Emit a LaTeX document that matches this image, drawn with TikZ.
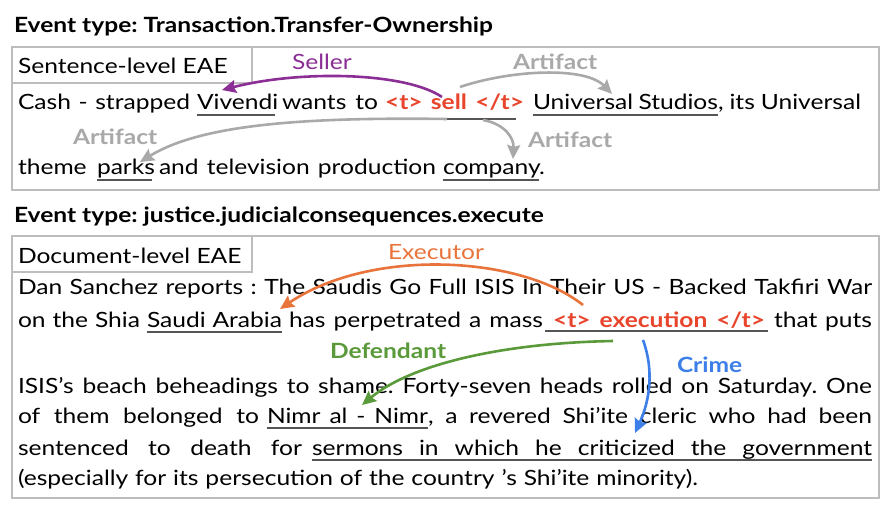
\documentclass[tikz,border=0pt]{standalone}
\usepackage{fontspec}
\setmainfont[FakeStretch=1.17]{Lato}
\frenchspacing
\usetikzlibrary{arrows.meta,calc}
\definecolor{trig}{HTML}{E8452C}
\definecolor{purp}{HTML}{8B2F96}
\definecolor{argray}{HTML}{A9A9A9}
\definecolor{orng}{HTML}{E8743B}
\definecolor{grn}{HTML}{5B9A3A}
\definecolor{blu}{HTML}{3D7FE8}
\definecolor{boxgray}{HTML}{BDBDBD}
\definecolor{ulgray}{HTML}{555555}
\newcommand\bodyfont{\fontsize{21}{25}\selectfont}
\newcommand\segbox[2]{\makebox[#1pt][s]{#2}}
\tikzset{
  seg/.style={anchor=base west, inner sep=0pt, outer sep=0pt, font=\bodyfont},
  trigtext/.style={seg, text=trig, font=\bodyfont\bfseries},
  lab/.style={anchor=base west, inner sep=0pt, outer sep=0pt, font=\bodyfont},
  blab/.style={lab, font=\bodyfont\bfseries},
  frame/.style={draw=boxgray, line width=1.2pt},
  ul/.style={draw=ulgray, line width=1.3pt},
  argarrow/.style={line width=2.6pt, -{Stealth[length=14pt,width=13pt,inset=2pt]}},
}
\begin{document}
\begin{tikzpicture}[x=1pt,y=-1pt]
\useasboundingbox (0,0) rectangle (894,516);
\fill[white] (0,0) rectangle (894,516);

% ---------- Sentence-level ----------
\node[blab] (t1) at (14,33) {Event type: Transaction.Transfer-Ownership};
\draw[frame] (12,47) rectangle (879,190);
\draw[frame] (12,47) rectangle (252,83);
\node[lab] (l1) at (18,74) {Sentence-level EAE};

\node[seg] (s1a) at (18,110) {\segbox{172}{Cash - strapped}};
\node[seg] (s1b) at (197,110) {\segbox{78}{Vivendi}};
\node[seg] (s1c) at (282,110) {\segbox{96}{wants to}};
\node[trigtext] (s1d) at (385,110) {\segbox{139}{<t> sell </t>}};
\node[seg] (s1e) at (533,110) {\segbox{185}{Universal Studios}};
\node[seg] (s1f) at (718,110) {\segbox{143}{, its Universal}};

\node[seg] (s2a) at (18,175) {\segbox{72}{theme}};
\node[seg] (s2b) at (97,175) {\segbox{55}{parks}};
\node[seg] (s2c) at (159,175) {\segbox{277}{and television production}};
\node[seg] (s2d) at (443,175) {\segbox{96}{company}};
\node[seg] (s2e) at (539,175) {.};

\draw[ul] ($(s1b.base west)+(0,5)$) -- ($(s1b.base east)+(0,5)$);
\draw[ul] ($(s1e.base west)+(0,5)$) -- ($(s1e.base east)+(0,5)$);
\draw[ul] ($(s1d.base west)+(0,9)$) -- ($(s1d.base east)+(-8,9)$);
\draw[ul] ($(s2b.base west)+(0,5)$) -- ($(s2b.base east)+(0,5)$);
\draw[ul] ($(s2d.base west)+(0,5)$) -- ($(s2d.base east)+(0,5)$);

\node[lab, text=purp] (lseller) at (292,70) {Seller};
\node[blab, text=argray] (lart1) at (513,70) {Artifact};
\node[blab, text=argray] (lart2) at (73,145) {Artifact};
\node[blab, text=argray] (lart3) at (528,148) {Artifact};

\coordinate (sellA) at (442,97);
\coordinate (sellB) at (460,87);
\coordinate (sellC) at (447,119);
\coordinate (sellD) at (483,120);
\coordinate (vivT) at (222,90);
\coordinate (uniT) at (612,94);
\coordinate (parT) at (140,162);
\coordinate (comT) at (513,159);

\draw[argarrow, purp] (sellA) .. controls (405,72) and (300,70) .. (vivT);
\draw[argarrow, argray] (sellB) .. controls (510,70) and (585,66) .. (uniT);
\draw[argarrow, argray] (sellC) .. controls (300,117) and (200,125) .. (parT);
\draw[argarrow, argray] (sellD) .. controls (505,124) and (514,138) .. (comT);

% ---------- Document-level ----------
\node[blab] (t2) at (14,222) {Event type: justice.judicialconsequences.execute};
\draw[frame] (12,236) rectangle (879,498);
\draw[frame] (12,236) rectangle (252,272);
\node[lab] (l2) at (18,263) {Document-level EAE};

\node[seg] (d1) at (18,294) {\segbox{854}{Dan Sanchez reports : The Saudis Go Full ISIS In Their US - Backed Takfiri War}};

\node[seg] (d2a) at (18,327) {\segbox{122}{on the Shia}};
\node[seg] (d2b) at (147,327) {\segbox{135}{Saudi Arabia}};
\node[seg] (d2c) at (289,327) {\segbox{254}{has perpetrated a mass}};
\node[trigtext] (d2d) at (553,327) {\segbox{212}{<t> execution </t>}};
\node[seg] (d2e) at (774,327) {\segbox{98}{that puts}};

\node[seg] (d3) at (18,393) {\segbox{854}{ISIS’s beach beheadings to shame. Forty-seven heads rolled on Saturday. One}};

\node[seg] (d4a) at (18,423) {\segbox{241}{of them belonged to}};
\node[seg] (d4b) at (267,423) {\segbox{161}{Nimr al - Nimr}};
\node[seg] (d4c) at (428,423) {\segbox{444}{, a revered Shi’ite cleric who had been}};

\node[seg] (d5a) at (18,455) {\segbox{284}{sentenced to death for}};
\node[seg] (d5b) at (312,455) {\segbox{560}{sermons in which he criticized the government}};

\node[seg] (d6) at (18,485) {\segbox{680}{(especially for its persecution of the country ’s Shi’ite minority).}};

\draw[ul] ($(d2b.base west)+(0,5)$) -- ($(d2b.base east)+(0,5)$);
\draw[ul] ($(d2d.base west)+(-8,4)$) -- ($(d2d.base east)+(3,4)$);
\draw[ul] ($(d4b.base west)+(0,5)$) -- ($(d4b.base east)+(0,5)$);
\draw[ul] ($(d5b.base west)+(0,5)$) -- ($(d5b.base east)+(0,5)$);

\node[lab, text=orng] (lexe) at (388,259) {Executor};
\node[blab, text=grn] (ldef) at (330,358) {Defendant};
\node[blab, text=blu] (lcri) at (677,372) {Crime};

\coordinate (exA) at (583,305);
\coordinate (exB) at (613,341);
\coordinate (exC) at (643,340);
\coordinate (saT) at (280,309);
\coordinate (niT) at (362,405);
\coordinate (seT) at (635,433);

\draw[argarrow, orng] (exA) .. controls (520,255) and (370,248) .. (saT);
\draw[argarrow, grn] (exB) .. controls (500,343) and (410,365) .. (niT);
\draw[argarrow, blu] (exC) .. controls (654,370) and (650,400) .. (seT);
\end{tikzpicture}
\end{document}
